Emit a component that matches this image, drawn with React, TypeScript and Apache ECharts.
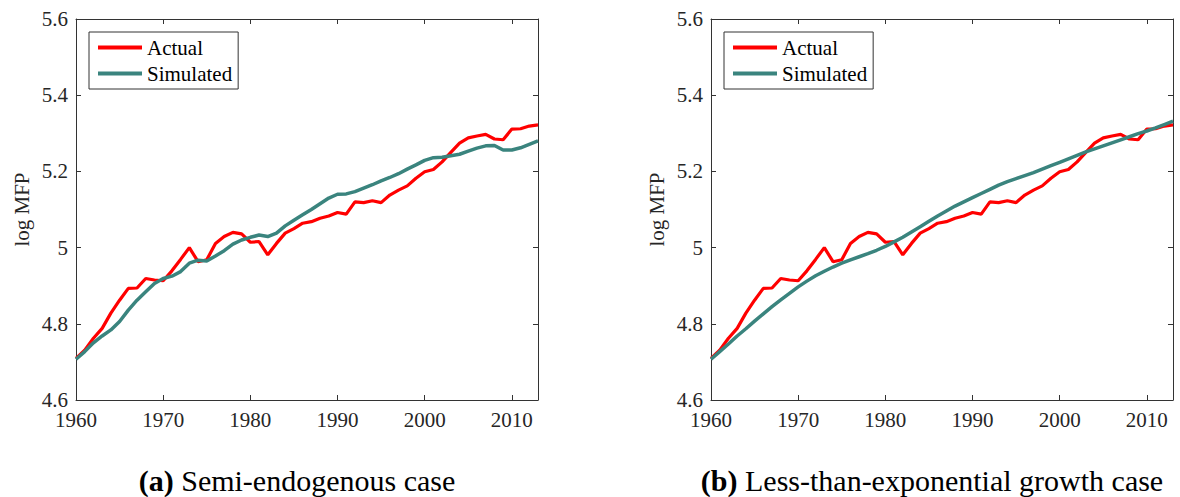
import React, { useEffect, useRef } from "react";
import * as echarts from "echarts";

const startYear = 1960;
const endYear = 2013;
const tickYears = [1960, 1970, 1980, 1990, 2000, 2010];
const yTicks = [4.6, 4.8, 5.0, 5.2, 5.4, 5.6];

const actual = [
  4.709, 4.731, 4.762, 4.788, 4.828, 4.862, 4.893, 4.894, 4.919, 4.915,
  4.913, 4.939, 4.969, 5.0, 4.963, 4.968, 5.011, 5.029, 5.04, 5.036,
  5.014, 5.016, 4.981, 5.011, 5.038, 5.05, 5.064, 5.068, 5.077, 5.083,
  5.092, 5.088, 5.12, 5.118, 5.123, 5.118, 5.138, 5.151, 5.162, 5.182,
  5.199, 5.205, 5.225, 5.25, 5.274, 5.288, 5.293, 5.297, 5.285, 5.283,
  5.311, 5.312, 5.319, 5.322,
];

const simulatedSemiEndogenous = [
  4.707, 4.727, 4.75, 4.768, 4.784, 4.806, 4.836, 4.862, 4.884, 4.906,
  4.919, 4.925, 4.937, 4.959, 4.967, 4.965, 4.978, 4.992, 5.009, 5.02,
  5.027, 5.033, 5.029, 5.038, 5.057, 5.072, 5.086, 5.1, 5.115, 5.13,
  5.14, 5.141, 5.147, 5.156, 5.165, 5.175, 5.184, 5.194, 5.206, 5.217,
  5.229, 5.236, 5.237, 5.241, 5.245, 5.253, 5.261, 5.267, 5.268, 5.256,
  5.256, 5.262, 5.271, 5.28,
];

const simulatedLessThanExp = [
  4.707, 4.727, 4.747, 4.768, 4.787, 4.807, 4.826, 4.845, 4.863, 4.88,
  4.897, 4.912, 4.926, 4.938, 4.949, 4.959, 4.968, 4.976, 4.984, 4.993,
  5.003, 5.015, 5.027, 5.041, 5.055, 5.069, 5.083, 5.096, 5.109, 5.12,
  5.131, 5.142, 5.153, 5.164, 5.173, 5.181, 5.189, 5.197, 5.206, 5.215,
  5.224, 5.233, 5.242, 5.251, 5.259, 5.267, 5.275, 5.283, 5.291, 5.299,
  5.306, 5.314, 5.323, 5.332,
];

const years = actual.map((_, i) => startYear + i);

const captionA = ["(a)", "Semi-endogenous case"];
const captionB = ["(b)", "Less-than-exponential growth case"];
const yAxisName = "log MFP";
const seriesNames = ["Actual", "Simulated"];

const FONT = "Liberation Serif";
const AXIS_COLOR = "#333333";
const TEXT_COLOR = "#262626";
const RED = "#ff0000";
const TEAL = "#3a847e";

const pair = (vals: number[]) => vals.map((v, i) => [years[i], v]);

export default function App() {
  const ref = useRef<HTMLDivElement>(null);

  useEffect(() => {
    document.body.style.margin = "0";
    if (!ref.current) return;
    const chart = echarts.init(ref.current, null, { renderer: "svg" });

    const panels = [
      { left: 76, sim: simulatedSemiEndogenous, caption: captionA },
      { left: 711, sim: simulatedLessThanExp, caption: captionB },
    ];
    const plotW = 462;
    const plotTop = 19;
    const plotH = 381;

    const grids: any[] = [];
    const xAxes: any[] = [];
    const yAxes: any[] = [];
    const series: any[] = [];
    const legends: any[] = [];
    const graphics: any[] = [];

    panels.forEach((p, gi) => {
      grids.push({
        left: p.left,
        top: plotTop,
        width: plotW,
        height: plotH,
        outerBoundsMode: "none",
        containLabel: false,
      });
      const xBase = {
        type: "value",
        gridIndex: gi,
        min: startYear,
        max: endYear,
        interval: 10,
        splitLine: { show: false },
        axisLine: { show: true, onZero: false, lineStyle: { color: AXIS_COLOR, width: 1 } },
        axisTick: { show: true, inside: true, length: 5, customValues: tickYears, lineStyle: { color: AXIS_COLOR } },
      };
      xAxes.push({
        ...xBase,
        position: "bottom",
        axisLabel: {
          show: true,
          customValues: tickYears,
          margin: 9,
          fontFamily: FONT,
          fontSize: 21,
          color: TEXT_COLOR,
          formatter: (v: number) => String(Math.round(v)),
        },
      });
      xAxes.push({ ...xBase, position: "top", axisLabel: { show: false } });
      const yBase = {
        type: "value",
        gridIndex: gi,
        min: 4.6,
        max: 5.6,
        interval: 0.2,
        splitLine: { show: false },
        axisLine: { show: true, onZero: false, lineStyle: { color: AXIS_COLOR, width: 1 } },
        axisTick: { show: true, inside: true, length: 5, lineStyle: { color: AXIS_COLOR } },
      };
      yAxes.push({
        ...yBase,
        position: "left",
        name: yAxisName,
        nameLocation: "middle",
        nameGap: 44,
        nameRotate: 90,
        nameTextStyle: { fontFamily: FONT, fontSize: 21, color: TEXT_COLOR },
        axisLabel: {
          show: true,
          customValues: yTicks,
          margin: 8,
          fontFamily: FONT,
          fontSize: 21,
          color: TEXT_COLOR,
          formatter: (v: number) => String(Number(v.toFixed(1))),
        },
      });
      yAxes.push({ ...yBase, position: "right", axisLabel: { show: false } });

      const xi = gi * 2;
      const yi = gi * 2;
      series.push({
        type: "line",
        name: seriesNames[0],
        xAxisIndex: xi,
        yAxisIndex: yi,
        data: pair(actual),
        showSymbol: false,
        symbol: "none",
        lineStyle: { color: RED, width: 3.2 },
        itemStyle: { color: RED },
        z: 2,
      });
      series.push({
        type: "line",
        name: seriesNames[1],
        xAxisIndex: xi,
        yAxisIndex: yi,
        data: pair(p.sim),
        showSymbol: false,
        symbol: "none",
        lineStyle: { color: TEAL, width: 3.5 },
        itemStyle: { color: TEAL },
        z: 3,
      });

      legends.push({
        data: seriesNames,
        left: p.left + 13,
        top: 32,
        orient: "vertical",
        icon: "rect",
        itemWidth: 44,
        itemHeight: 4,
        itemGap: 5,
        padding: [5, 6, 5, 9],
        borderColor: AXIS_COLOR,
        borderWidth: 1,
        backgroundColor: "#ffffff",
        selectedMode: false,
        textStyle: { fontFamily: FONT, fontSize: 21, lineHeight: 20, color: "#000" },
      });

      graphics.push({
        type: "text",
        x: p.left + plotW / 2 - 10,
        y: 480,
        style: {
          text: `{b|${p.caption[0]}} ${p.caption[1]}`,
          fontFamily: FONT,
          fontSize: 30,
          fill: "#000",
          align: "center",
          verticalAlign: "middle",
          rich: {
            b: { fontWeight: "bold", fontFamily: FONT, fontSize: 30, fill: "#000" },
          },
        },
      });
    });

    chart.setOption({
      animation: false,
      backgroundColor: "#ffffff",
      textStyle: { fontFamily: FONT },
      grid: grids,
      xAxis: xAxes,
      yAxis: yAxes,
      legend: legends,
      series,
      graphic: graphics,
    });

    return () => chart.dispose();
  }, []);

  return (
    <div
      ref={ref}
      style={{ position: "absolute", left: 0, top: 0, width: 1180, height: 497 }}
    />
  );
}
